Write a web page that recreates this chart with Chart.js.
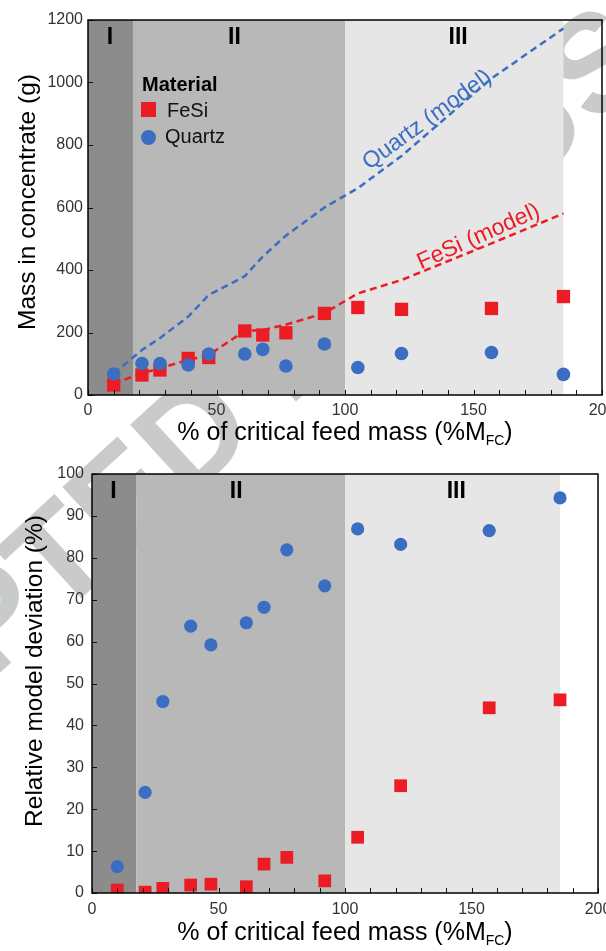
<!DOCTYPE html>
<html>
<head>
<meta charset="utf-8">
<script src="https://cdn.jsdelivr.net/npm/chart.js@4"></script>
<style>
body { margin: 0; background: #fff; }
#wrap { position: relative; width: 606px; height: 951px; overflow: hidden; }
canvas { position: absolute; left: 0; }
</style>
</head>
<body>
<div id="wrap">
<canvas id="massChart" width="606" height="455" style="top:0"></canvas>
<canvas id="devChart" width="606" height="496" style="top:455px"></canvas>
</div>
<script>
// % of critical feed mass for each test
var feedMass = [10, 21, 28, 39, 47, 61, 68, 77, 92, 105, 122, 157, 185];

// mass in concentrate (g)
var fesiMass = [32, 64, 80, 117, 120, 205, 192, 199, 261, 280, 274, 277, 315];
var quartzMass = [67, 101, 101, 96, 131, 131, 146, 93, 163, 88, 133, 136, 66];
var fesiModel = [37, 69, 86, 112, 128, 205, 208, 225, 262, 325, 368, 485, 581];
var quartzModel = [69, 144, 182, 251, 320, 380, 443, 510, 600, 662, 765, 1013, 1173];

// relative model deviation (%)
var fesiDev = [0.7, 0.2, 1.1, 1.9, 2.1, 1.5, 6.9, 8.5, 2.9, 13.3, 25.6, 44.2, 46.1];
var quartzDev = [6.3, 24.0, 45.7, 63.7, 59.2, 64.5, 68.2, 81.9, 73.3, 86.9, 83.2, 86.5, 94.3];

// regimes
var regionEdges = [0, 17.5, 100, 185];
var regionNames = ['I', 'II', 'III'];
var regionLabelX = [8.5, 57, 144];
var regionFill = ['#8c8c8c', '#b8b8b8', '#e6e6e6'];

var RED = '#ec1c24';
var BLUE = '#3b6dc3';
var FONT = '"Liberation Sans", Arial, Helvetica, sans-serif';

function pts(ys) {
  return feedMass.map(function (x, i) { return { x: x, y: ys[i] }; });
}

function drawWatermark(ctx, offsetY) {
  ctx.save();
  ctx.font = 'bold 138px ' + FONT;
  ctx.fillStyle = '#c9cacb';
  var pre = ctx.measureText('ACCEP').width + ctx.measureText('T').width / 2;
  ctx.translate(55, 555 - offsetY);
  ctx.rotate(-42.5 * Math.PI / 180);
  ctx.fillText('ACCEPTED MANUSCRIPT', -pre, 0.36 * 138);
  ctx.restore();
}

var deco = {
  id: 'deco',
  beforeDraw: function (chart, args, o) {
    var ctx = chart.ctx, a = chart.chartArea, xs = chart.scales.x;
    drawWatermark(ctx, o.offsetY);
    for (var i = 0; i < regionNames.length; i++) {
      var l = xs.getPixelForValue(regionEdges[i]);
      var r = xs.getPixelForValue(regionEdges[i + 1]);
      ctx.fillStyle = regionFill[i];
      ctx.fillRect(l, a.top, r - l, a.bottom - a.top);
    }
  },
  afterDatasetsDraw: function (chart, args, o) {
    var ctx = chart.ctx, xs = chart.scales.x, ys = chart.scales.y;
    (o.notes || []).forEach(function (n) {
      ctx.save();
      ctx.translate(xs.getPixelForValue(n.x), ys.getPixelForValue(n.y));
      ctx.rotate(n.angle * Math.PI / 180);
      ctx.font = '23px ' + FONT;
      ctx.fillStyle = n.color;
      ctx.textAlign = 'center';
      ctx.textBaseline = 'middle';
      ctx.fillText(n.text, 0, 0);
      ctx.restore();
    });
  },
  afterDraw: function (chart, args, o) {
    var ctx = chart.ctx, a = chart.chartArea, xs = chart.scales.x, ys = chart.scales.y;
    ctx.save();
    // inward ticks
    ctx.strokeStyle = '#111';
    ctx.lineWidth = 1;
    ctx.beginPath();
    for (var v = xs.min; v <= xs.max; v += 10) {
      var px = Math.round(xs.getPixelForValue(v)) + 0.5;
      ctx.moveTo(px, a.bottom);
      ctx.lineTo(px, a.bottom - 5);
    }
    for (var w = ys.min; w <= ys.max; w += o.yStep) {
      var py = Math.round(ys.getPixelForValue(w)) + 0.5;
      ctx.moveTo(a.left, py);
      ctx.lineTo(a.left + 5, py);
    }
    ctx.stroke();
    // frame
    ctx.lineWidth = 1.5;
    ctx.strokeStyle = '#000';
    ctx.strokeRect(a.left, a.top, a.right - a.left, a.bottom - a.top);

    // regime numerals
    ctx.fillStyle = '#000';
    ctx.font = 'bold 23px ' + FONT;
    ctx.textAlign = 'center';
    ctx.textBaseline = 'middle';
    regionNames.forEach(function (t, i) {
      ctx.fillText(t, xs.getPixelForValue(regionLabelX[i]), a.top + 18);
    });

    // legend
    if (o.legend) {
      ctx.textAlign = 'left';
      ctx.textBaseline = 'alphabetic';
      ctx.font = 'bold 20px ' + FONT;
      ctx.fillText('Material', 142, 91);
      ctx.font = '20px ' + FONT;
      ctx.fillStyle = RED;
      ctx.fillRect(141, 102, 15, 15);
      ctx.fillStyle = '#111';
      ctx.fillText('FeSi', 167, 117);
      ctx.fillStyle = BLUE;
      ctx.beginPath();
      ctx.arc(148.5, 137.5, 7.5, 0, Math.PI * 2);
      ctx.fill();
      ctx.fillStyle = '#111';
      ctx.fillText('Quartz', 165, 143);
    }

    // y title
    ctx.fillStyle = '#000';
    ctx.save();
    ctx.translate(o.yTitleX, o.yTitleY);
    ctx.rotate(-Math.PI / 2);
    ctx.font = '24.5px ' + FONT;
    ctx.textAlign = 'center';
    ctx.textBaseline = 'alphabetic';
    ctx.fillText(o.yTitle, 0, 0);
    ctx.restore();

    // x title with subscript
    var main = '% of critical feed mass (%M', sub = 'FC', end = ')';
    ctx.textAlign = 'left';
    ctx.textBaseline = 'alphabetic';
    ctx.font = '25px ' + FONT;
    var w1 = ctx.measureText(main).width, w3 = ctx.measureText(end).width;
    ctx.font = '14px ' + FONT;
    var w2 = ctx.measureText(sub).width;
    var x0 = (a.left + a.right) / 2 - (w1 + w2 + w3) / 2;
    ctx.font = '25px ' + FONT;
    ctx.fillText(main, x0, o.xTitleY);
    ctx.font = '14px ' + FONT;
    ctx.fillText(sub, x0 + w1, o.xTitleY + 5);
    ctx.font = '25px ' + FONT;
    ctx.fillText(end, x0 + w1 + w2, o.xTitleY);
    ctx.restore();
  }
};

function plain(v) { return String(v); }

function axisX(h, pad) {
  return {
    type: 'linear', min: 0, max: 200,
    ticks: { stepSize: 50, padding: pad, color: '#333', font: { family: FONT, size: 16 }, callback: plain },
    grid: { display: false, drawTicks: false }, border: { display: false },
    afterFit: function (s) { s.height = h; s.paddingLeft = 0; s.paddingRight = 0; }
  };
}
function axisY(max, step, w, pad) {
  return {
    type: 'linear', min: 0, max: max,
    ticks: { stepSize: step, padding: pad, color: '#333', font: { family: FONT, size: 16 }, callback: plain },
    grid: { display: false, drawTicks: false }, border: { display: false },
    afterFit: function (s) { s.width = w; s.paddingTop = 0; s.paddingBottom = 0; }
  };
}

function scatterSet(label, ys, style, r, color) {
  return {
    label: label, data: pts(ys), pointStyle: style, pointRadius: r,
    pointBackgroundColor: color, pointBorderWidth: 0, showLine: false
  };
}
function modelSet(label, ys, color) {
  return {
    label: label, data: pts(ys), showLine: true, pointRadius: 0,
    borderColor: color, borderWidth: 2.5, borderDash: [7, 4.5], fill: false
  };
}

new Chart(document.getElementById('massChart'), {
  type: 'scatter',
  data: {
    datasets: [
      scatterSet('Quartz', quartzMass, 'circle', 6.8, BLUE),
      scatterSet('FeSi', fesiMass, 'rect', 9.4, RED),
      modelSet('Quartz (model)', quartzModel, BLUE),
      modelSet('FeSi (model)', fesiModel, RED)
    ]
  },
  options: {
    responsive: false, animation: false,
    layout: { padding: { left: 0, right: 4, top: 20, bottom: 0 }, autoPadding: false },
    scales: { x: axisX(60, 6), y: axisY(1200, 200, 88, 5) },
    plugins: {
      legend: { display: false }, tooltip: { enabled: false },
      deco: {
        offsetY: 0, yStep: 200, legend: true,
        yTitle: 'Mass in concentrate (g)', yTitleX: 35, yTitleY: 202, xTitleY: 440,
        notes: [
          { text: 'Quartz (model)', x: 132, y: 880, angle: -36, color: BLUE },
          { text: 'FeSi (model)', x: 152, y: 506, angle: -24, color: RED }
        ]
      }
    }
  },
  plugins: [deco]
});

new Chart(document.getElementById('devChart'), {
  type: 'scatter',
  data: {
    datasets: [
      scatterSet('Quartz', quartzDev, 'circle', 6.6, BLUE),
      scatterSet('FeSi', fesiDev, 'rect', 9.0, RED)
    ]
  },
  options: {
    responsive: false, animation: false,
    layout: { padding: { left: 0, right: 8, top: 19, bottom: 0 }, autoPadding: false },
    scales: { x: axisX(58, 7), y: axisY(100, 10, 92, 8) },
    plugins: {
      legend: { display: false }, tooltip: { enabled: false },
      deco: {
        offsetY: 455, yStep: 10, legend: false,
        yTitle: 'Relative model deviation (%)', yTitleX: 42, yTitleY: 216, xTitleY: 485,
        notes: []
      }
    }
  },
  plugins: [deco]
});
</script>
</body>
</html>
